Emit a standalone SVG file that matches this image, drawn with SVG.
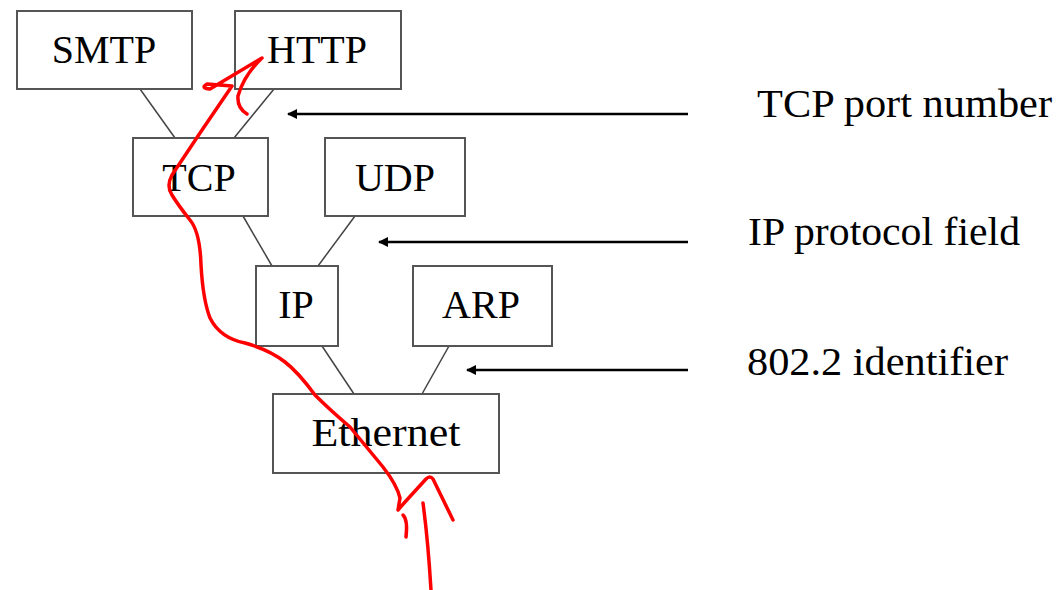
<svg xmlns="http://www.w3.org/2000/svg" width="1057" height="590" viewBox="0 0 1057 590">
<defs>
<style>
.box{fill:#fff;stroke:#555;stroke-width:2}
.lbl{font-family:"Liberation Serif","Times New Roman",serif;font-size:40px;fill:#000;text-anchor:middle}
.side{font-family:"Liberation Serif","Times New Roman",serif;font-size:40px;fill:#000}
.link{stroke:#444;stroke-width:1.5;fill:none}
.arr{stroke:#000;stroke-width:2.5;fill:none;marker-end:url(#ah)}
.red{stroke:#f00;stroke-width:3.5;fill:none;stroke-linecap:round;stroke-linejoin:round}
</style>
<marker id="ah" viewBox="0 0 10 10" refX="9" refY="5" markerWidth="5" markerHeight="4" orient="auto" markerUnits="strokeWidth">
<path d="M0,0 L10,5 L0,10 z" fill="#000"/>
</marker>
</defs>
<rect width="1057" height="590" fill="#fff"/>
<g id="connectors">
<line class="link" x1="140" y1="89" x2="175" y2="138"/>
<line class="link" x1="274" y1="89" x2="234" y2="138"/>
<line class="link" x1="243" y1="216" x2="272" y2="266"/>
<line class="link" x1="355" y1="216" x2="318" y2="266"/>
<line class="link" x1="322" y1="346" x2="354" y2="394"/>
<line class="link" x1="449" y1="346" x2="422" y2="394"/>
<line class="arr" x1="688" y1="114" x2="288" y2="114"/>
<line class="arr" x1="688" y1="242" x2="379" y2="242"/>
<line class="arr" x1="688" y1="370" x2="467" y2="370"/>
</g>
<g id="smtp"><rect class="box" x="17" y="11" width="175" height="78"/><text class="lbl" x="104" y="63">SMTP</text></g>
<g id="http"><rect class="box" x="235" y="11" width="166" height="78"/><text class="lbl" x="317" y="63">HTTP</text></g>
<g id="tcp"><rect class="box" x="133" y="138" width="135" height="78"/><text class="lbl" x="199" y="191">TCP</text></g>
<g id="udp"><rect class="box" x="325" y="138" width="140" height="78"/><text class="lbl" x="395" y="191">UDP</text></g>
<g id="ip"><rect class="box" x="256" y="266" width="82" height="80"/><text class="lbl" x="296" y="318">IP</text></g>
<g id="arp"><rect class="box" x="413" y="266" width="139" height="80"/><text class="lbl" x="481" y="318">ARP</text></g>
<g id="ethernet"><rect class="box" x="273" y="394" width="226" height="79"/><text class="lbl" x="386" y="446" textLength="149" lengthAdjust="spacingAndGlyphs">Ethernet</text></g>
<g id="labels">
<text class="side" x="757" y="117" textLength="295" lengthAdjust="spacingAndGlyphs">TCP port number</text>
<text class="side" x="748" y="245" textLength="272" lengthAdjust="spacingAndGlyphs">IP protocol field</text>
<text class="side" x="747" y="375" textLength="261" lengthAdjust="spacingAndGlyphs">802.2 identifier</text>
</g>
<g id="annotation">
<path class="red" d="M453,520 L433,479 Q430,475 426,479 L405,502 L398,510 L400,498 Q397,485 383,467 L350,427 Q330,410 315,395 Q298,372 285,362 Q270,350 245,343 Q220,338 210,318 Q203,300 201,265 Q200,232 190,220 Q178,205 172,195 Q166,186 172,175 L200,133 L232,86 L207,84 Q200,88 210,89 L262,58 Q244,75 238,96 Q237,108 247,114"/>
<path class="red" d="M403,515 Q408,520 406,537"/>
<path class="red" d="M423,503 Q428,540 431,590"/>
</g>
</svg>
